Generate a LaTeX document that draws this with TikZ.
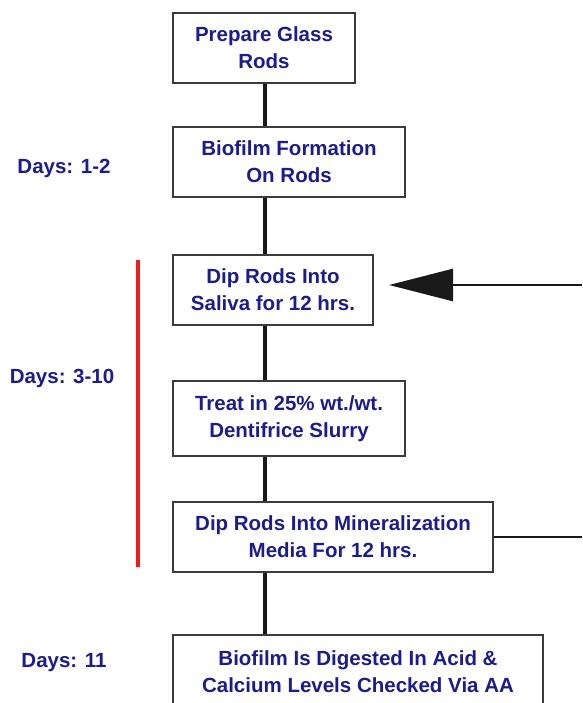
\documentclass[tikz,border=0pt]{standalone}
\usepackage{fontspec}
\setmainfont{Liberation Sans}
\usetikzlibrary{arrows.meta}
\definecolor{navy}{RGB}{28,28,140}
\definecolor{boxline}{RGB}{60,60,60}
\definecolor{redbar}{RGB}{235,30,30}
\tikzset{
  stepbox/.style={draw=boxline, line width=2pt, fill=white, inner sep=0pt,
    align=center, text=navy, font=\fontsize{20.5}{27}\selectfont\bfseries},
  daylabel/.style={text=navy, inner sep=0pt, font=\fontsize{20.5}{27}\selectfont\bfseries},
  link/.style={line width=3.2pt, black!90},
  feed/.style={line width=2.4pt, black!90},
}
\begin{document}
\begin{tikzpicture}[x=1pt,y=-1pt]
\clip (0,0) rectangle (582,703);
\fill[white] (0,0) rectangle (582,703);
\coordinate (spine) at (265,0);
\coordinate (rightA) at (582,285);
\coordinate (rightB) at (582,537);
\coordinate (redtop) at (138,260);
\coordinate (redbot) at (138,567);

\node[stepbox, minimum width=182pt, minimum height=70pt] (b1) at (264,48) {Prepare Glass\\Rods};
\node[stepbox, minimum width=232pt, minimum height=70pt] (b2) at (289,162) {Biofilm Formation\\On Rods};
\node[stepbox, minimum width=200pt, minimum height=70pt] (b3) at (273,290) {Dip Rods Into\\Saliva for 12 hrs.};
\node[stepbox, minimum width=232pt, minimum height=75pt] (b4) at (289,418.5) {Treat in 25\% wt./wt.\\Dentifrice Slurry};
\node[stepbox, minimum width=320pt, minimum height=70pt] (b5) at (333,537) {Dip Rods Into Mineralization\\Media For 12 hrs.};
\node[stepbox, minimum width=370pt, minimum height=74pt] (b6) at (358,672) {Biofilm Is Digested In Acid \&\\Calcium Levels Checked Via AA};

\coordinate (tipA) at ([xshift=15pt]b3.east);

\draw[link] (b1.south -| spine) -- (b2.north -| spine);
\draw[link] (b2.south -| spine) -- (b3.north -| spine);
\draw[link] (b3.south -| spine) -- (b4.north -| spine);
\draw[link] (b4.south -| spine) -- (b5.north -| spine);
\draw[link] (b5.south -| spine) -- (b6.north -| spine);

\draw[feed, -{Triangle[length=64pt,width=32pt]}] (rightA) -- (tipA |- rightA);
\draw[feed] (b5.east) -- (rightB);

\draw[redbar, line width=3.4pt] (redtop) -- (redbot);

\node[daylabel] (d1) at (64,168) {Days: 1-2};
\node[daylabel] (d2) at (62,378) {Days: 3-10};
\node[daylabel] (d3) at (64,663) {Days: 11};
\end{tikzpicture}
\end{document}
